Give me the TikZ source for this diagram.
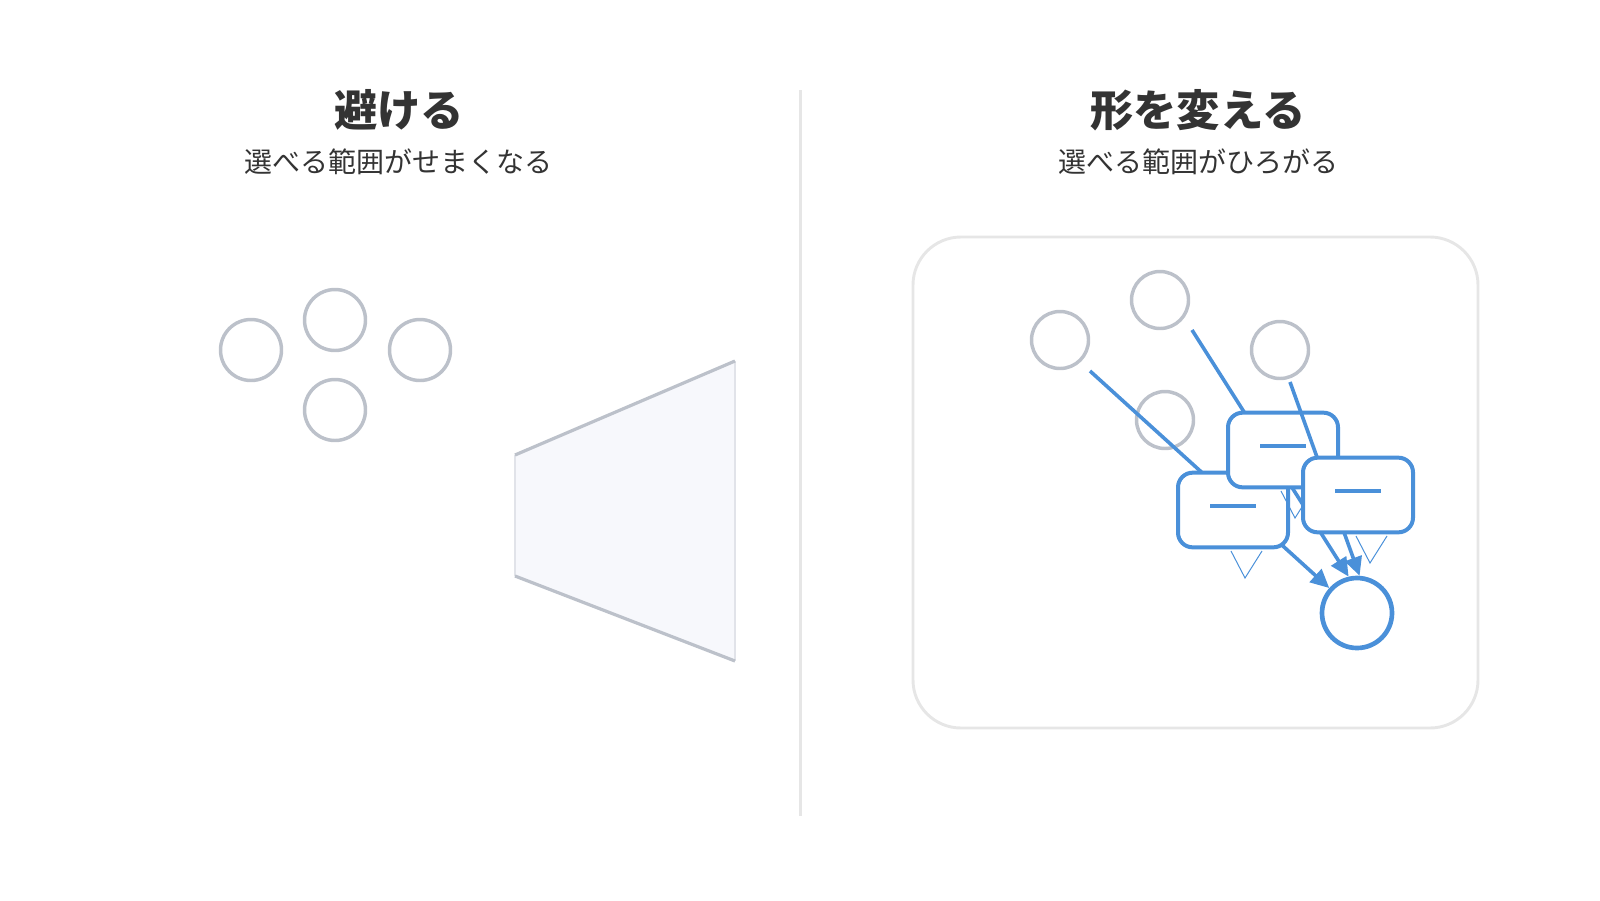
\documentclass[tikz,border=0pt]{standalone}
\usepackage{fontspec}
\setmainfont{Noto Sans CJK JP}
\usetikzlibrary{arrows.meta}

\definecolor{inkgray}{HTML}{333333}
\definecolor{ringgray}{HTML}{BCC1CA}
\definecolor{rulegray}{HTML}{E6E6E6}
\definecolor{funnelfill}{HTML}{F7F8FC}
\definecolor{funneledge}{HTML}{E1E3E9}
\definecolor{pickblue}{HTML}{4A90D9}

\tikzset{every picture/.style={line width=0.75pt}}
\tikzset{
  ring/.style={circle, draw=ringgray, line width=2.6pt, minimum size=#1, inner sep=0pt},
  ring/.default=45.75pt,
  bubble/.style={rectangle, rounded corners=11pt, draw=pickblue, fill=white, line width=3pt,
    minimum width=82.5pt, minimum height=56pt, inner sep=0pt},
  pull/.style={draw=pickblue, line width=2.7pt, -{Triangle[length=14pt,width=13pt]}},
  headline/.style={text=inkgray, font=\fontsize{32.5}{38}\selectfont\bfseries, inner sep=0pt},
  subline/.style={text=inkgray, font=\fontsize{21}{25}\selectfont, inner sep=0pt}
}

\begin{document}
\begin{tikzpicture}[x=0.75pt,y=0.75pt,yscale=-1,xscale=1]
\useasboundingbox (0,0) rectangle (1600,900);

% Text Node
\node [headline] (titleL) at (399,110) {避ける};
% Text Node
\node [subline] (subL) at (398,162) {選べる範囲がせまくなる};
% Text Node
\node [headline] (titleR) at (1198,110) {形を変える};
% Text Node
\node [subline] (subR) at (1198,162) {選べる範囲がひろがる};

%Straight Lines: divider
\draw [rulegray, line width=2.25pt] (800,90) -- (800,816) ;

%Shape: Circle (left group)
\node [ring=45.75pt] (leftW) at (251,350) {};
\node [ring=45.75pt] (leftN) at (335,320) {};
\node [ring=45.75pt] (leftE) at (420,350) {};
\node [ring=45.75pt] (leftS) at (335,410) {};

%Shape: Funnel
\fill [funnelfill] (515,455) -- (735,361) -- (735,661) -- (515,576) -- cycle ;
\draw [funneledge, line width=0.9pt] (515,455) -- (515,576) ;
\draw [funneledge, line width=0.9pt] (735,361) -- (735,661) ;
\draw [ringgray, line width=2.4pt] (515,455) -- (735,361) ;
\draw [ringgray, line width=2.4pt] (515,576) -- (735,661) ;

%Shape: Rounded Rect (frame)
\draw [rulegray, line width=2.2pt] (913,237) [rounded corners=36pt] rectangle (1478,728) ;

%Shape: Circle (right group)
\node [ring=42.75pt] (optA) at (1060,340) {};
\node [ring=42.75pt] (optB) at (1160,300) {};
\node [ring=42.75pt] (optC) at (1280,350) {};
\node [ring=42.75pt] (optD) at (1165,420) {};

%Shape: Circle (target)
\node [circle, draw=pickblue, line width=3.5pt, minimum size=52.5pt, inner sep=0pt] (goal) at (1357,613) {};

% line starts
\coordinate (fromA) at (1090,371);
\coordinate (fromB) at (1192,330);
\coordinate (fromC) at (1290,382);

%Straight Lines
\draw [pull] (fromA) -- (goal.138) ;
\draw [pull] (fromB) -- (goal.103) ;

%Shape: Bubbles
\foreach \nm/\cx/\cy in {boxL/1233/510, boxM/1283/450}{
  \draw [pickblue, line width=0.75pt] (\cx-2,\cy+41) -- (\cx+12,\cy+68) -- (\cx+29,\cy+41) ;
  \node [bubble] (\nm) at (\cx,\cy) {};
  \draw [pickblue, line width=2.4pt] ([shift={(-23,-4)}]\nm.center) -- ([shift={(23,-4)}]\nm.center) ;
}

%Straight Lines
\draw [pull] (fromC) -- (goal.86) ;

%Shape: Bubble
\draw [pickblue, line width=0.75pt] (1356,536) -- (1370,563) -- (1387,536) ;
\node [bubble] (boxR) at (1358,495) {};
\draw [pickblue, line width=2.4pt] ([shift={(-23,-4)}]boxR.center) -- ([shift={(23,-4)}]boxR.center) ;

\end{tikzpicture}
\end{document}
